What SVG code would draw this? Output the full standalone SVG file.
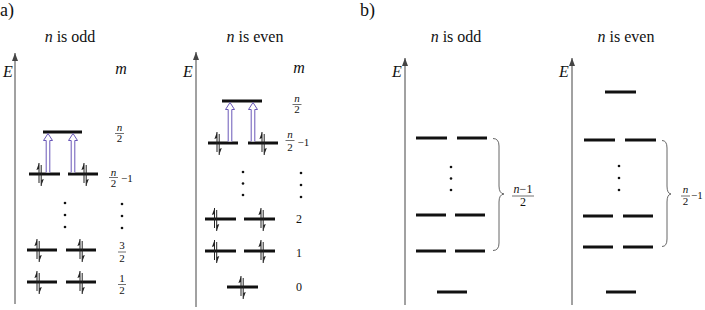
<svg xmlns="http://www.w3.org/2000/svg" width="705" height="310" viewBox="0 0 705 310">
<style>
text{font-family:"Liberation Serif","Times New Roman",Times,serif;fill:#111}
.t{font-size:16px}
.tm{font-size:16px;text-anchor:middle}
.lbl{font-size:18px}
.i{font-style:italic}
.f{font-size:11px;text-anchor:middle}
.fs{font-size:11px}
.num{font-size:12px;text-anchor:middle}
.lv{stroke:#111;stroke-width:3}
.ax{stroke:#444;stroke-width:1}
.fl{stroke:#333;stroke-width:0.7}
.br{fill:none;stroke:#555;stroke-width:0.9}
.dot{fill:#111}
.ex{fill:#fff;stroke:#6a58b8;stroke-width:1}
</style>
<defs>
<marker id="ah" viewBox="0 0 8 6" refX="8" refY="3" markerWidth="8" markerHeight="6" markerUnits="userSpaceOnUse" orient="auto">
<path d="M0,0 L8,3 L0,6 z" fill="#444"/>
</marker>
<g id="spin">
<path d="M-1,9 V-11 M1.2,-9 V12" stroke="#222" stroke-width="1" fill="none"/>
<path d="M-1,-11 L-3.6,-4 L-1,-5 z M1.2,12 L3.8,5 L1.2,6 z" fill="#222"/>
</g>
<path id="exarrow" d="M-1.8,0 V-32 H-4.5 L0,-39 L4.5,-32 H1.8 V0"/>
</defs>

<text class="lbl" x="0" y="16">a)</text>
<text class="lbl" x="360" y="16">b)</text>

<!-- Panel a: n odd -->
<g id="a-odd">
<line class="ax" x1="15" y1="304" x2="15" y2="53" marker-end="url(#ah)"/>
<text class="t i" x="3" y="77">E</text>
<text class="tm" x="70" y="42"><tspan class="i">n</tspan> is odd</text>
<text class="tm i" x="121" y="74">m</text>
<g id="a-odd-top"><line class="lv" x1="43" y1="132" x2="82" y2="132"/></g>
<g id="a-odd-n2m1">
<line class="lv" x1="29" y1="174" x2="60" y2="174"/>
<line class="lv" x1="68" y1="174" x2="98" y2="174"/>
<use href="#spin" x="40" y="174"/>
<use href="#spin" x="85" y="174"/>
</g>
<g id="a-odd-dots">
<circle class="dot" cx="65" cy="203" r="1.3"/><circle class="dot" cx="65" cy="215" r="1.3"/><circle class="dot" cx="65" cy="227" r="1.3"/>
<circle class="dot" cx="122" cy="204" r="1.3"/><circle class="dot" cx="122" cy="216" r="1.3"/><circle class="dot" cx="122" cy="228" r="1.3"/>
</g>
<g id="a-odd-32">
<line class="lv" x1="27" y1="250" x2="57" y2="250"/>
<line class="lv" x1="66" y1="250" x2="96" y2="250"/>
<use href="#spin" x="38" y="250"/>
<use href="#spin" x="81" y="250"/>
</g>
<g id="a-odd-12">
<line class="lv" x1="27" y1="282" x2="57" y2="282"/>
<line class="lv" x1="66" y1="282" x2="96" y2="282"/>
<use href="#spin" x="38" y="282"/>
<use href="#spin" x="81" y="282"/>
</g>
<g id="a-odd-labels">
<text class="f i" x="119.5" y="131">n</text><line class="fl" x1="115" y1="133.5" x2="124" y2="133.5"/><text class="f" x="119.5" y="142">2</text>
<text class="f i" x="113.5" y="176">n</text><line class="fl" x1="109" y1="177.5" x2="118" y2="177.5"/><text class="f" x="113.5" y="186.5">2</text><text class="fs" x="121" y="181.5">−1</text>
<text class="f" x="122" y="249">3</text><line class="fl" x1="118" y1="252" x2="126" y2="252"/><text class="f" x="122" y="262">2</text>
<text class="f" x="122" y="281.5">1</text><line class="fl" x1="118" y1="284.5" x2="126" y2="284.5"/><text class="f" x="122" y="294">2</text>
</g>
</g>

<!-- Panel a: n even -->
<g id="a-even">
<line class="ax" x1="196" y1="307" x2="196" y2="52" marker-end="url(#ah)"/>
<text class="t i" x="183" y="77">E</text>
<text class="tm" x="255" y="42"><tspan class="i">n</tspan> is even</text>
<text class="tm i" x="299" y="73">m</text>
<g id="a-even-top"><line class="lv" x1="222" y1="101" x2="262" y2="101"/></g>
<g id="a-even-n2m1">
<line class="lv" x1="208" y1="143" x2="238" y2="143"/>
<line class="lv" x1="248" y1="143" x2="278" y2="143"/>
<use href="#spin" x="218" y="143"/>
<use href="#spin" x="263" y="143"/>
</g>
<g id="a-even-dots">
<circle class="dot" cx="243" cy="172" r="1.3"/><circle class="dot" cx="243" cy="183.5" r="1.3"/><circle class="dot" cx="243" cy="195" r="1.3"/>
<circle class="dot" cx="301" cy="173" r="1.3"/><circle class="dot" cx="301" cy="185" r="1.3"/><circle class="dot" cx="301" cy="197" r="1.3"/>
</g>
<g id="a-even-2">
<line class="lv" x1="205" y1="219" x2="236" y2="219"/>
<line class="lv" x1="244" y1="219" x2="275" y2="219"/>
<use href="#spin" x="215.5" y="219"/>
<use href="#spin" x="262" y="219"/>
</g>
<g id="a-even-1">
<line class="lv" x1="205" y1="251" x2="236" y2="251"/>
<line class="lv" x1="244" y1="251" x2="275" y2="251"/>
<use href="#spin" x="215.5" y="251"/>
<use href="#spin" x="262" y="251"/>
</g>
<g id="a-even-0">
<line class="lv" x1="227" y1="287" x2="258" y2="287"/>
<use href="#spin" x="242" y="287"/>
</g>
<g id="a-even-labels">
<text class="f i" x="297" y="102">n</text><line class="fl" x1="292.5" y1="104.5" x2="301.5" y2="104.5"/><text class="f" x="297" y="112.5">2</text>
<text class="f i" x="290" y="138">n</text><line class="fl" x1="285.5" y1="140.5" x2="294.5" y2="140.5"/><text class="f" x="290" y="151">2</text><text class="fs" x="297.5" y="146">−1</text>
<text class="num" x="299" y="223">2</text>
<text class="num" x="299" y="257">1</text>
<text class="num" x="299" y="291">0</text>
</g>
</g>

<!-- Panel b: n odd -->
<g id="b-odd">
<line class="ax" x1="405" y1="305" x2="405" y2="58" marker-end="url(#ah)"/>
<text class="t i" x="392" y="77">E</text>
<text class="tm" x="456" y="42"><tspan class="i">n</tspan> is odd</text>
<g id="b-odd-l1"><line class="lv" x1="416" y1="138" x2="447" y2="138"/><line class="lv" x1="457" y1="138" x2="487" y2="138"/></g>
<g id="b-odd-dots"><circle class="dot" cx="451" cy="167" r="1.3"/><circle class="dot" cx="451" cy="178.5" r="1.3"/><circle class="dot" cx="451" cy="190" r="1.3"/></g>
<g id="b-odd-l2"><line class="lv" x1="416" y1="215" x2="446" y2="215"/><line class="lv" x1="455" y1="215" x2="485" y2="215"/></g>
<g id="b-odd-l3"><line class="lv" x1="416" y1="251" x2="446" y2="251"/><line class="lv" x1="455" y1="251" x2="485" y2="251"/></g>
<g id="b-odd-l0"><line class="lv" x1="437" y1="292" x2="467" y2="292"/></g>
<path class="br" d="M493,138.5 Q499,138.5 499,146 V186 Q499,193.5 504,194 Q499,194.5 499,202 V243 Q499,250.5 493,250.5"/>
<text class="num" x="523" y="193"><tspan class="i">n</tspan>−1</text>
<line class="fl" x1="512" y1="196" x2="534" y2="196"/>
<text class="num" x="523" y="206">2</text>
</g>

<!-- Panel b: n even -->
<g id="b-even">
<line class="ax" x1="572" y1="305" x2="572" y2="58" marker-end="url(#ah)"/>
<text class="t i" x="559" y="77">E</text>
<text class="tm" x="626" y="42"><tspan class="i">n</tspan> is even</text>
<g id="b-even-top"><line class="lv" x1="605" y1="92" x2="636" y2="92"/></g>
<g id="b-even-l1"><line class="lv" x1="584" y1="140" x2="615" y2="140"/><line class="lv" x1="625" y1="140" x2="656" y2="140"/></g>
<g id="b-even-dots"><circle class="dot" cx="619" cy="166" r="1.3"/><circle class="dot" cx="619" cy="178" r="1.3"/><circle class="dot" cx="619" cy="190" r="1.3"/></g>
<g id="b-even-l2"><line class="lv" x1="583" y1="216" x2="613" y2="216"/><line class="lv" x1="623" y1="216" x2="653" y2="216"/></g>
<g id="b-even-l3"><line class="lv" x1="583" y1="247" x2="613" y2="247"/><line class="lv" x1="623" y1="247" x2="653" y2="247"/></g>
<g id="b-even-l0"><line class="lv" x1="606" y1="292" x2="636" y2="292"/></g>
<path class="br" d="M662,140.5 Q667,140.5 667,148 V186 Q667,193.5 671,194 Q667,194.5 667,202 V239 Q667,246.5 662,246.5"/>
<text class="f i" x="685.5" y="193">n</text><line class="fl" x1="681" y1="196" x2="690" y2="196"/><text class="f" x="685.5" y="205">2</text><text class="fs" x="691" y="199">−1</text>
</g>

<!-- connectors: excitation arrows -->
<g id="connectors">
<use href="#exarrow" class="ex" x="48" y="172.5"/>
<use href="#exarrow" class="ex" x="73" y="172.5"/>
<use href="#exarrow" class="ex" x="230" y="141.5"/>
<use href="#exarrow" class="ex" x="253" y="141.5"/>
</g>
</svg>
